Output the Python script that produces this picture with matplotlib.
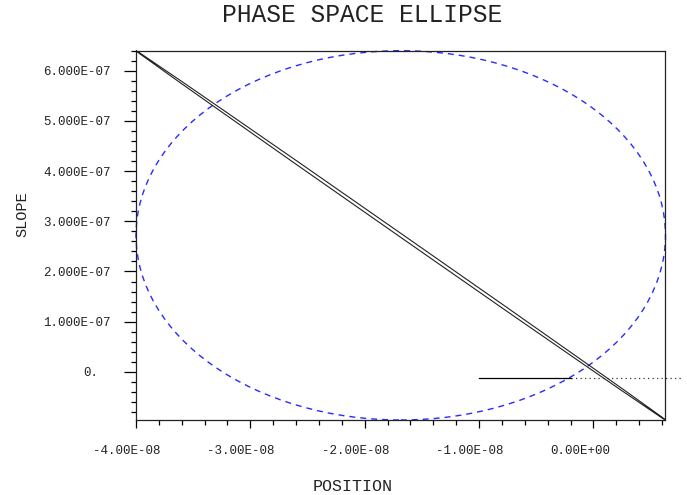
import numpy as np
import matplotlib
matplotlib.use("Agg")
import matplotlib.pyplot as plt
import matplotlib.patches as mpatches
import matplotlib.transforms as mtransforms
from matplotlib.ticker import FixedLocator

# ---- data ----
title = "PHASE SPACE ELLIPSE"
x_label = "POSITION"
y_label = "SLOPE"

x_limits = [-4.0e-8, 6.3e-9]
y_limits = [-9.6e-8, 6.4e-7]

x_ticks = [-4e-8, -3e-8, -2e-8, -1e-8, 0.0]
x_tick_labels = ["-4.00E-08", "-3.00E-08", "-2.00E-08", "-1.00E-08", "0.00E+00"]
x_minor_step = 2e-9

y_ticks = [0.0, 1e-7, 2e-7, 3e-7, 4e-7, 5e-7, 6e-7]
y_tick_labels = ["0.", "1.000E-07", "2.000E-07", "3.000E-07", "4.000E-07", "5.000E-07", "6.000E-07"]
y_minor_step = 2e-8

# upright (dashed) ellipse: centre and semi-axes
upright_center = [-1.685e-8, 2.72e-7]
upright_semi = [2.315e-8, 3.68e-7]

# thin tilted beam ellipse: centre, x semi-amplitude, y semi-amplitude, phase offset (rad)
beam_center = [-1.685e-8, 2.72e-7]
beam_amp_x = 2.315e-8
beam_amp_y = 3.68e-7
beam_phase = 0.011

# horizontal marker line
marker_y = -1.26e-8
marker_solid_x = [-1.0e-8, -2.0e-9]
marker_dotted_x = [-2.0e-9, 7.7e-9]

# ---- figure ----
W, H, DPI = 687, 495, 100
fig = plt.figure(figsize=(W / DPI, H / DPI), dpi=DPI)
ax = fig.add_axes([136 / W, 1 - 420 / H, (665.5 - 136) / W, (420 - 50.7) / H])

mono = "Liberation Mono"
ink = "#222222"

ax.set_xlim(*x_limits)
ax.set_ylim(*y_limits)

# upright dashed ellipse
ell = mpatches.Ellipse(upright_center, 2 * upright_semi[0], 2 * upright_semi[1],
                       fill=False, edgecolor="#2a2aff", linewidth=1.0,
                       linestyle=(0, (4.3, 3.6)), clip_on=False)
ax.add_patch(ell)

# thin tilted ellipse: unit circle mapped by affine transform
c, s = np.cos(beam_phase), np.sin(beam_phase)
mat = np.array([[beam_amp_x, 0.0, beam_center[0]],
                [-beam_amp_y * c, -beam_amp_y * s, beam_center[1]],
                [0.0, 0.0, 1.0]])
beam = mpatches.Circle((0, 0), 1.0, fill=False, edgecolor=ink, linewidth=0.8,
                       transform=mtransforms.Affine2D(mat) + ax.transData, clip_on=False)
ax.add_patch(beam)

# marker line
ax.plot(marker_solid_x, [marker_y, marker_y], color="black", linewidth=0.9, clip_on=False)
ax.plot(marker_dotted_x, [marker_y, marker_y], color="#333333", linewidth=0.9,
        linestyle=(0, (1, 2.6)), clip_on=False)

# ticks
ax.set_xticks(x_ticks, x_tick_labels)
ax.set_yticks(y_ticks, y_tick_labels)
xmin_ticks = np.arange(x_limits[0], x_limits[1] + 1e-12, x_minor_step)
ymin_ticks = np.arange(-8e-8, y_limits[1] + 1e-12, y_minor_step)
ax.xaxis.set_minor_locator(FixedLocator(xmin_ticks))
ax.yaxis.set_minor_locator(FixedLocator(ymin_ticks))

ax.tick_params(axis="x", which="major", direction="out", length=5.8, width=0.9, pad=12,
               labelsize=9, top=False)
ax.tick_params(axis="x", which="minor", direction="out", length=3.4, width=0.9, top=False)
ax.tick_params(axis="y", which="major", direction="out", length=8.6, width=0.9, pad=9.5,
               labelsize=9, right=False)
ax.tick_params(axis="y", which="minor", direction="out", length=3.6, width=0.9, right=False)

for lab in ax.get_xticklabels() + ax.get_yticklabels():
    lab.set_fontfamily(mono)
    lab.set_color(ink)

# x tick labels are left-justified in a fixed-width field
xoff = mtransforms.ScaledTranslation(-43 / DPI, 0, fig.dpi_scale_trans)
for lab in ax.get_xticklabels():
    lab.set_horizontalalignment("left")
    lab.set_transform(lab.get_transform() + xoff)

yoff = mtransforms.ScaledTranslation(-13 / DPI, 0, fig.dpi_scale_trans)
for lab in ax.get_yticklabels():
    if lab.get_text() == "0.":
        lab.set_transform(lab.get_transform() + yoff)

for sp in ax.spines.values():
    sp.set_linewidth(0.9)
    sp.set_color(ink)

# texts
fig.text(361.7 / W, 1 - 22 / H, title, family=mono, fontsize=17.7,
         ha="center", va="baseline", color=ink)
fig.text(352.5 / W, 1 - 491 / H, x_label, family=mono, fontsize=12,
         ha="center", va="baseline", color=ink)
fig.text(22 / W, 1 - 214 / H, y_label, family=mono, fontsize=11,
         ha="center", va="center", rotation=90, color=ink)

fig.savefig("out.png", dpi=DPI)
